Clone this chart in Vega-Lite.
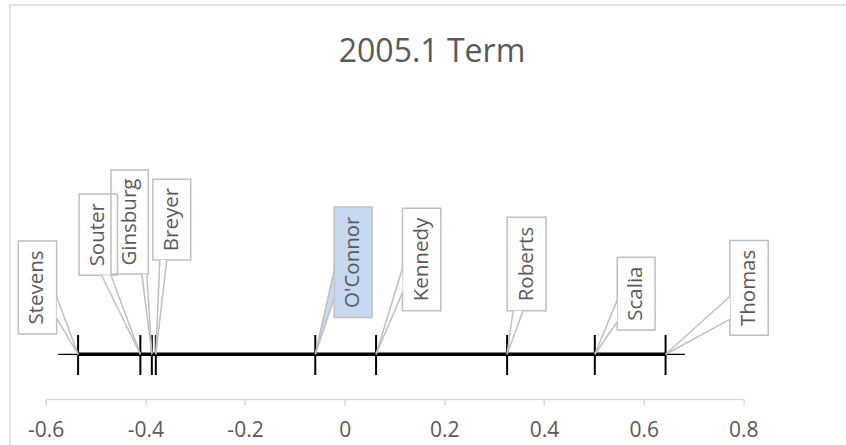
{
  "$schema": "https://vega.github.io/schema/vega-lite/v6.json",
  "width": 697.6,
  "height": 394,
  "autosize": {"type": "none"},
  "padding": {"left": 45.7, "top": 5, "right": 102.7, "bottom": 46},
  "background": "white",
  "config": {"view": {"stroke": null}},
  "title": {"text": "2005.1 Term", "font": "Open Sans", "fontSize": 32, "fontWeight": "normal", "color": "#595959", "anchor": "middle", "frame": "group", "dx": 37.5, "dy": 33, "offset": -57, "baseline": "alphabetic"},
  "datasets": {
    "justices": [
      {"name": "Stevens", "score": -0.535, "bx1": -0.655, "bx2": -0.578, "by1": 16.5, "by2": 40.1, "lx": -0.6165, "ly": 28.3, "b1x": -0.578, "b1y": 25.96, "b2x": -0.578, "b2y": 20.48},
      {"name": "Souter", "score": -0.41, "bx1": -0.533, "bx2": -0.456, "by1": 31.4, "by2": 52.0, "lx": -0.4945, "ly": 41.7, "b1x": -0.488, "b1y": 31.4, "b2x": -0.469, "b2y": 31.4},
      {"name": "Ginsburg", "score": -0.387, "bx1": -0.469, "bx2": -0.394, "by1": 31.7, "by2": 58.1, "lx": -0.4315, "ly": 44.9, "b1x": -0.407, "b1y": 31.7, "b2x": -0.397, "b2y": 31.7},
      {"name": "Breyer", "score": -0.379, "bx1": -0.385, "bx2": -0.309, "by1": 35.3, "by2": 55.8, "lx": -0.347, "ly": 45.55, "b1x": -0.371, "b1y": 35.3, "b2x": -0.357, "b2y": 35.3},
      {"name": "O'Connor", "score": -0.059, "bx1": -0.021, "bx2": 0.055, "by1": 20.7, "by2": 48.7, "lx": 0.017, "ly": 34.7, "b1x": -0.021, "b1y": 32.7, "b2x": -0.021, "b2y": 25.6},
      {"name": "Kennedy", "score": 0.063, "bx1": 0.116, "bx2": 0.193, "by1": 22.4, "by2": 48.4, "lx": 0.1545, "ly": 35.4, "b1x": 0.116, "b1y": 33.2, "b2x": 0.116, "b2y": 27.0},
      {"name": "Roberts", "score": 0.326, "bx1": 0.326, "bx2": 0.404, "by1": 22.4, "by2": 46.1, "lx": 0.365, "ly": 34.25, "b1x": 0.338, "b1y": 22.4, "b2x": 0.358, "b2y": 22.4},
      {"name": "Scalia", "score": 0.502, "bx1": 0.547, "bx2": 0.623, "by1": 17.5, "by2": 36.0, "lx": 0.585, "ly": 26.75, "b1x": 0.547, "b1y": 25.1, "b2x": 0.547, "b2y": 19.6},
      {"name": "Thomas", "score": 0.644, "bx1": 0.773, "bx2": 0.85, "by1": 16.2, "by2": 40.2, "lx": 0.8115, "ly": 28.2, "b1x": 0.773, "b1y": 26.0, "b2x": 0.773, "b2y": 20.2}
    ],
    "wedges": [
      {"name": "Stevens", "o": "v", "wx": -0.535, "wy": 11.35, "wy2": 11.35},
      {"name": "Stevens", "o": "v", "wx": -0.578, "wy": 25.96, "wy2": 20.48},
      {"name": "O'Connor", "o": "v", "wx": -0.059, "wy": 11.35, "wy2": 11.35},
      {"name": "O'Connor", "o": "v", "wx": -0.021, "wy": 32.7, "wy2": 25.6},
      {"name": "Kennedy", "o": "v", "wx": 0.063, "wy": 11.35, "wy2": 11.35},
      {"name": "Kennedy", "o": "v", "wx": 0.116, "wy": 33.2, "wy2": 27.0},
      {"name": "Scalia", "o": "v", "wx": 0.502, "wy": 11.35, "wy2": 11.35},
      {"name": "Scalia", "o": "v", "wx": 0.547, "wy": 25.1, "wy2": 19.6},
      {"name": "Thomas", "o": "v", "wx": 0.644, "wy": 11.35, "wy2": 11.35},
      {"name": "Thomas", "o": "v", "wx": 0.773, "wy": 26.0, "wy2": 20.2},
      {"name": "Souter", "o": "h", "wy": 11.35, "wx": -0.41, "wx2": -0.41},
      {"name": "Souter", "o": "h", "wy": 31.4, "wx": -0.488, "wx2": -0.469},
      {"name": "Ginsburg", "o": "h", "wy": 11.35, "wx": -0.387, "wx2": -0.387},
      {"name": "Ginsburg", "o": "h", "wy": 31.7, "wx": -0.407, "wx2": -0.397},
      {"name": "Breyer", "o": "h", "wy": 11.35, "wx": -0.379, "wx2": -0.379},
      {"name": "Breyer", "o": "h", "wy": 35.3, "wx": -0.371, "wx2": -0.357},
      {"name": "Roberts", "o": "h", "wy": 11.35, "wx": 0.326, "wx2": 0.326},
      {"name": "Roberts", "o": "h", "wy": 22.4, "wx": 0.338, "wx2": 0.358}
    ]
  },
  "layer": [
    {
      "data": {"name": "justices"},
      "mark": {"type": "rule", "color": "black", "strokeWidth": 2},
      "encoding": {
        "x": {"field": "score", "type": "quantitative", "scale": {"domain": [-0.6, 0.8], "nice": false, "zero": false}, "axis": {"values": [-0.6, -0.4, -0.2, 0, 0.2, 0.4, 0.6, 0.8], "title": null, "grid": false, "domain": true, "ticks": true, "labels": true, "domainColor": "#d9d9d9", "domainWidth": 1.5, "tickColor": "#d9d9d9", "tickWidth": 1.5, "tickSize": 6, "labelFont": "Open Sans", "labelFontSize": 21, "labelColor": "#595959", "labelPadding": 31, "labelBaseline": "alphabetic", "labelFlush": false, "labelOverlap": false, "labelExpr": "datum.value == 0 ? '0' : (datum.value < 0 ? '-' : '') + format(abs(datum.value), '.1f')"}},
        "y": {"datum": 16.24, "type": "quantitative", "scale": {"domain": [0, 100], "nice": false, "zero": false}, "axis": null},
        "y2": {"datum": 6.09}
      }
    },
    {
      "data": {"values": [{}]},
      "mark": {"type": "rect", "fill": "transparent", "stroke": "#d9d9d9", "strokeWidth": 1.5},
      "encoding": {
        "x": {"datum": -0.6716, "type": "quantitative"},
        "x2": {"datum": 1.02},
        "y": {"datum": -13, "type": "quantitative"},
        "y2": {"datum": 100}
      }
    },
    {
      "data": {"values": [{}]},
      "mark": {"type": "rule", "color": "black", "strokeWidth": 1.3},
      "encoding": {
        "x": {"datum": -0.575, "type": "quantitative"},
        "x2": {"datum": 0.683},
        "y": {"datum": 11.35, "type": "quantitative"}
      }
    },
    {
      "data": {"name": "justices"},
      "mark": {"type": "rule", "color": "black", "strokeWidth": 3.5},
      "encoding": {
        "x": {"aggregate": "min", "field": "score", "type": "quantitative"},
        "x2": {"aggregate": "max", "field": "score"},
        "y": {"datum": 11.35, "type": "quantitative"}
      }
    },
    {
      "data": {"name": "justices"},
      "mark": {"type": "rect", "stroke": "#bfbfbf", "strokeWidth": 1.5},
      "encoding": {
        "x": {"field": "bx1", "type": "quantitative"},
        "x2": {"field": "bx2"},
        "y": {"field": "by1", "type": "quantitative"},
        "y2": {"field": "by2"},
        "fill": {"condition": {"test": "datum.name === \"O'Connor\"", "value": "#c6d9f1"}, "value": "transparent"}
      }
    },
    {
      "data": {"name": "wedges"},
      "transform": [{"filter": "datum.o === 'v'"}],
      "mark": {"type": "area", "orient": "vertical"},
      "encoding": {
        "x": {"field": "wx", "type": "quantitative"},
        "y": {"field": "wy", "type": "quantitative"},
        "y2": {"field": "wy2"},
        "detail": {"field": "name", "type": "nominal"},
        "fill": {"condition": {"test": "datum.name === \"O'Connor\"", "value": "#c6d9f1"}, "value": "white"}
      }
    },
    {
      "data": {"name": "wedges"},
      "transform": [{"filter": "datum.o === 'h'"}],
      "mark": {"type": "area", "orient": "horizontal"},
      "encoding": {
        "y": {"field": "wy", "type": "quantitative"},
        "x": {"field": "wx", "type": "quantitative"},
        "x2": {"field": "wx2"},
        "detail": {"field": "name", "type": "nominal"},
        "fill": {"value": "white"}
      }
    },
    {
      "data": {"name": "justices"},
      "mark": {"type": "rule", "color": "#bfbfbf", "strokeWidth": 1.5},
      "encoding": {
        "x": {"field": "b1x", "type": "quantitative"},
        "y": {"field": "b1y", "type": "quantitative"},
        "x2": {"field": "score"},
        "y2": {"datum": 11.35}
      }
    },
    {
      "data": {"name": "justices"},
      "mark": {"type": "rule", "color": "#bfbfbf", "strokeWidth": 1.5},
      "encoding": {
        "x": {"field": "b2x", "type": "quantitative"},
        "y": {"field": "b2y", "type": "quantitative"},
        "x2": {"field": "score"},
        "y2": {"datum": 11.35}
      }
    },
    {
      "data": {"name": "justices"},
      "mark": {"type": "text", "angle": 270, "align": "center", "baseline": "middle", "font": "Open Sans", "fontSize": 20.5, "color": "#595959"},
      "encoding": {
        "x": {"field": "lx", "type": "quantitative"},
        "y": {"field": "ly", "type": "quantitative"},
        "text": {"field": "name"}
      }
    }
  ]
}
